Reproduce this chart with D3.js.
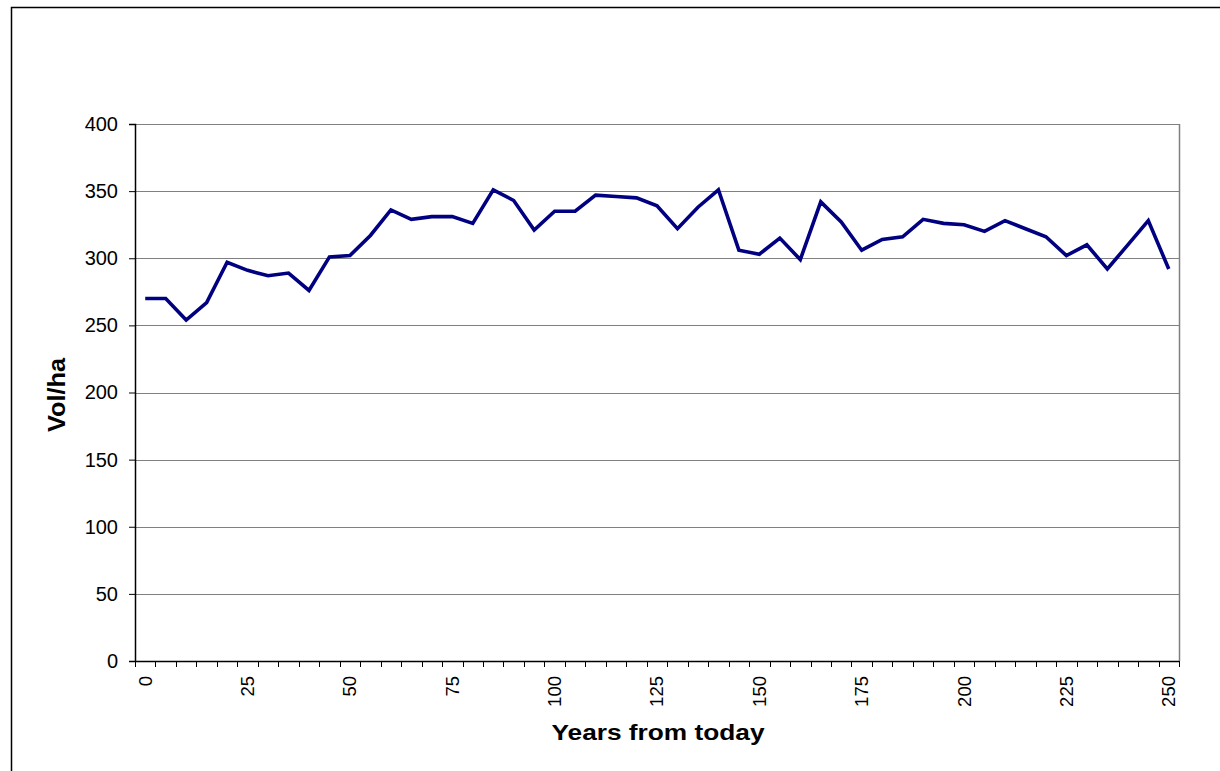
<!DOCTYPE html>
<html>
<head>
<meta charset="utf-8">
<script src="https://cdn.jsdelivr.net/npm/d3@7/dist/d3.min.js"></script>
<style>
  html, body { margin: 0; padding: 0; background: #fff; }
  svg { display: block; font-family: Arial, "Liberation Sans", sans-serif; }
</style>
</head>
<body>
<svg id="chart" width="1220" height="771"></svg>
<script>
// ---- data ----
const years = [0, 5, 10, 15, 20, 25, 30, 35, 40, 45, 50, 55, 60, 65, 70, 75, 80, 85, 90, 95,
  100, 105, 110, 115, 120, 125, 130, 135, 140, 145, 150, 155, 160, 165, 170, 175, 180, 185, 190, 195,
  200, 205, 210, 215, 220, 225, 230, 235, 240, 245, 250];
const volPerHa = [270, 270, 254, 267, 297, 291, 287, 289, 276, 301, 302, 317, 336, 329, 331, 331, 326, 351, 343, 321,
  335, 335, 347, 346, 345, 339, 322, 338, 351, 306, 303, 315, 299, 342, 327, 306, 314, 316, 329, 326,
  325, 320, 328, 322, 316, 302, 310, 292, 310, 328, 292];
const xLabelYears = [0, 25, 50, 75, 100, 125, 150, 175, 200, 225, 250];
const yTicks = [0, 50, 100, 150, 200, 250, 300, 350, 400];
const yTitle = "Vol/ha";
const xTitle = "Years from today";

// ---- layout ----
const svg = d3.select("#chart");
const pLeft = 135, pRight = 1179, pTop = 124, pBottom = 661;

// outer frame
svg.append("rect")
  .attr("x", 11.5).attr("y", 7.5).attr("width", 1300).attr("height", 900)
  .attr("fill", "none").attr("stroke", "#000").attr("stroke-width", 1.5);

const x = d3.scaleBand().domain(years).range([pLeft, pRight]).paddingInner(0).paddingOuter(0);
const y = d3.scaleLinear().domain([0, 400]).range([pBottom, pTop]);

// gridlines
svg.append("g").selectAll("line").data(yTicks.filter(d => d > 0)).join("line")
  .attr("x1", pLeft).attr("x2", pRight)
  .attr("y1", d => Math.round(y(d)) + 0.5).attr("y2", d => Math.round(y(d)) + 0.5)
  .attr("stroke", "#808080").attr("stroke-width", 1);

// right frame
svg.append("line")
  .attr("x1", pRight + 0.5).attr("x2", pRight + 0.5).attr("y1", pTop).attr("y2", pBottom)
  .attr("stroke", "#808080").attr("stroke-width", 1.5);

// y axis
const yAxis = svg.append("g")
  .attr("transform", `translate(${pLeft},0)`)
  .call(d3.axisLeft(y).tickValues(yTicks).tickSize(6).tickPadding(11).tickFormat(d3.format("d")));
yAxis.select(".domain").attr("stroke", "#000").attr("stroke-width", 1.5);
yAxis.selectAll(".tick line").attr("stroke", "#000");
yAxis.selectAll("text").attr("font-size", "20px").attr("fill", "#000")
  .attr("font-family", "Arial, 'Liberation Sans', sans-serif");

// x axis labels (at band centres)
const xAxis = svg.append("g")
  .attr("transform", `translate(0,${pBottom})`)
  .call(d3.axisBottom(x).tickValues(xLabelYears).tickSize(0).tickPadding(0));
xAxis.select(".domain").remove();
xAxis.selectAll(".tick text")
  .attr("font-size", "18.5px").attr("fill", "#000")
  .attr("font-family", "Arial, 'Liberation Sans', sans-serif")
  .attr("text-anchor", "end")
  .attr("transform", "rotate(-90)")
  .attr("x", -15).attr("y", 0).attr("dy", "0.35em");

// x axis line and boundary ticks
svg.append("line")
  .attr("x1", pLeft).attr("x2", pRight).attr("y1", pBottom + 0.5).attr("y2", pBottom + 0.5)
  .attr("stroke", "#000").attr("stroke-width", 1.5);
const boundaries = years.map(d => x(d)).concat([x(years[years.length - 1]) + x.bandwidth()]);
svg.append("g").selectAll("line").data(boundaries).join("line")
  .attr("x1", d => Math.round(d) + 0.5).attr("x2", d => Math.round(d) + 0.5)
  .attr("y1", pBottom).attr("y2", pBottom + 6)
  .attr("stroke", "#000").attr("stroke-width", 1);

// series line
const line = d3.line()
  .x((d, i) => x(years[i]) + x.bandwidth() / 2)
  .y(d => y(d));
svg.append("path")
  .datum(volPerHa)
  .attr("d", line)
  .attr("fill", "none")
  .attr("stroke", "#000080")
  .attr("stroke-width", 3.6)
  .attr("stroke-linejoin", "miter");

// titles
svg.append("text")
  .attr("transform", `translate(57,395) rotate(-90)`)
  .attr("text-anchor", "middle").attr("dominant-baseline", "central")
  .attr("font-size", "23px").attr("font-weight", "bold")
  .attr("textLength", 74).attr("lengthAdjust", "spacingAndGlyphs")
  .text(yTitle);

svg.append("text")
  .attr("x", (pLeft + pRight) / 2 + 1).attr("y", 740)
  .attr("text-anchor", "middle")
  .attr("font-size", "22px").attr("font-weight", "bold")
  .attr("textLength", 213).attr("lengthAdjust", "spacingAndGlyphs")
  .text(xTitle);
</script>
</body>
</html>
